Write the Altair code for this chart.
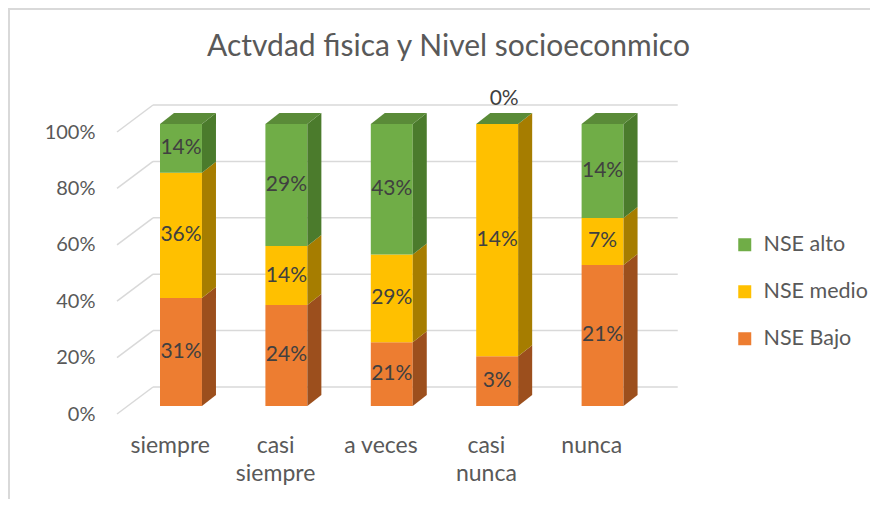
import json
import altair as alt
import pandas as pd

# ---------------- data ----------------
categories = ["siempre", "casi siempre", "a veces", "casi nunca", "nunca"]
category_lines = [["siempre"], ["casi", "siempre"], ["a veces"], ["casi", "nunca"], ["nunca"]]
series = ["NSE Bajo", "NSE medio", "NSE alto"]          # stacking order, bottom -> top
legend_order = ["NSE alto", "NSE medio", "NSE Bajo"]
nse_bajo = [31, 24, 21, 3, 21]
nse_medio = [36, 14, 29, 14, 7]
nse_alto = [14, 29, 43, 0, 14]
y_ticks = [0, 0.2, 0.4, 0.6, 0.8, 1.0]
x_ticks = [0.5, 1.5, 2.5, 3.5, 4.5]

# ---------------- style ----------------
front_colors = {"NSE alto": "#70AD47", "NSE medio": "#FFC000", "NSE Bajo": "#ED7D31"}
side_colors = {"NSE alto": "#4B7B2C", "NSE medio": "#A67D00", "NSE Bajo": "#9C4F1D"}
top_color = "#5A8B38"
grid_color = "#D9D9D9"
text_color = "#595959"
label_color = "#404040"
FONT = "Lato"

W, H = 527, 282
# 3D geometry (in scale units: x = category index, y = share)
FX0, FX1 = 0.408, 0.806     # front face within a category band
DX, DY = 0.133, 0.039       # bar depth
FY = 0.0284                 # bar front lifted above floor front edge
WX, WY = 0.342, 0.0957      # back wall offset
WALL_END = 5.32

# ---------------- tables ----------------
seg_rows, side_rows, top_rows = [], [], []
values = {"NSE Bajo": nse_bajo, "NSE medio": nse_medio, "NSE alto": nse_alto}
for i, cat in enumerate(categories):
    total = sum(values[s][i] for s in series)
    cum = 0
    for s in series:
        v = values[s][i]
        lo, hi = cum / total, (cum + v) / total
        cum += v
        key = f"{i}-{s}"
        if v == 0:
            lx, ly = i + (FX0 + FX1) / 2 + DX / 2, hi + FY + DY + 0.05
        else:
            lx, ly = i + (FX0 + FX1) / 2, (lo + hi) / 2 + FY
        seg_rows.append(dict(cat=cat, series=s, value=v, label=f"{v}%",
                             x0=i + FX0, x1=i + FX1, y0=lo + FY, y1=hi + FY,
                             lx=lx, ly=ly))
        side_rows.append(dict(key=key, series=s, x=i + FX1, y=lo + FY, y2=hi + FY))
        side_rows.append(dict(key=key, series=s, x=i + FX1 + DX, y=lo + FY + DY, y2=hi + FY + DY))
        if s == series[-1]:
            t = hi + FY
            top_rows += [
                dict(key=i, x=i + FX0, y=t, y2=t),
                dict(key=i, x=i + FX0 + DX, y=t, y2=t + DY),
                dict(key=i, x=i + FX1, y=t, y2=t + DY),
                dict(key=i, x=i + FX1 + DX, y=t + DY, y2=t + DY),
            ]

seg = pd.DataFrame(seg_rows)
side = pd.DataFrame(side_rows)
top = pd.DataFrame(top_rows)
grid = pd.DataFrame({"t": y_ticks})
grid["tb"] = grid["t"] + WY
grid["xa"], grid["xb"], grid["xc"] = 0.0, WX, WALL_END

xs = alt.Scale(domain=[0, 5], nice=False, zero=False)
ys = alt.Scale(domain=[0, 1], nice=False, zero=False)

label_expr = json.dumps(category_lines) + "[floor(datum.value)]"
x_axis = alt.Axis(values=x_ticks, labelExpr=label_expr, title=None,
                  labelFont=FONT, labelFontSize=23, labelColor=text_color,
                  labelPadding=20, labelLineHeight=28, labelFlush=False,
                  labelOverlap=False, domain=False, ticks=False, grid=False)
y_axis = alt.Axis(values=y_ticks, format=".0%", title=None, labelFont=FONT,
                  labelFontSize=20, labelColor=text_color, labelPadding=22,
                  domain=False, ticks=False, grid=False)


def X(field):
    return alt.X(field, scale=xs, axis=x_axis)


def Y(field):
    return alt.Y(field, scale=ys, axis=y_axis)


wall = alt.Chart(grid).mark_rule(color=grid_color, strokeWidth=1.5).encode(
    x=X("xb:Q"), x2="xc:Q", y=Y("tb:Q"),
)
diag = alt.Chart(grid).mark_rule(color=grid_color, strokeWidth=1.5).encode(
    x=X("xa:Q"), x2="xb:Q", y=Y("t:Q"), y2="tb:Q",
)

front = alt.Chart(seg).mark_rect().encode(
    x=X("x0:Q"), x2="x1:Q",
    y=Y("y0:Q"), y2="y1:Q",
    color=alt.Color("series:N",
                    scale=alt.Scale(domain=legend_order,
                                    range=[front_colors[s] for s in legend_order]),
                    legend=alt.Legend(title=None, orient="none", legendX=617, legendY=102,
                                      symbolType="square", symbolSize=169,
                                      symbolStrokeWidth=0, labelFont=FONT,
                                      labelFontSize=21.5, labelColor=text_color,
                                      rowPadding=24, labelOffset=8)),
)

sides = alt.Chart(side).mark_area(orient="vertical", interpolate="linear").encode(
    x=X("x:Q"), y=Y("y:Q"), y2="y2:Q",
    detail="key:N",
    color=alt.Color("series:N",
                    scale=alt.Scale(domain=legend_order,
                                    range=[side_colors[s] for s in legend_order]),
                    legend=None),
)

tops = alt.Chart(top).mark_area(orient="vertical", interpolate="linear",
                                color=top_color).encode(
    x=X("x:Q"), y=Y("y:Q"), y2="y2:Q",
    detail="key:N",
)

labels = alt.Chart(seg).mark_text(font=FONT, fontSize=21, color=label_color,
                                  align="center", baseline="middle").encode(
    x=X("lx:Q"), y=Y("ly:Q"),
    text="label:N",
)

border_df = pd.DataFrame({"k": [0]})
border_left = alt.Chart(border_df).mark_rule(color=grid_color, strokeWidth=2).encode(
    x=alt.value(-108), y=alt.value(-124), y2=alt.value(H + 85))
border_top = alt.Chart(border_df).mark_rule(color=grid_color, strokeWidth=2).encode(
    x=alt.value(-109), x2=alt.value(W + 226), y=alt.value(-123))

chart = alt.layer(
    border_left, border_top, wall, diag, front, sides, tops, labels
).resolve_scale(color="independent").properties(
    width=W, height=H,
    autosize="none",
    padding={"left": 109, "top": 124, "right": 226, "bottom": 85},
    title=alt.TitleParams("Actvdad fisica y Nivel socioeconmico", font=FONT, fontSize=30,
                          fontWeight="normal", color=text_color, anchor="middle",
                          frame="group", dx=68, baseline="alphabetic", offset=-79),
).configure(background="white").configure_view(stroke=None)

chart.save("out.html", embed_options={"renderer": "svg", "actions": False})
